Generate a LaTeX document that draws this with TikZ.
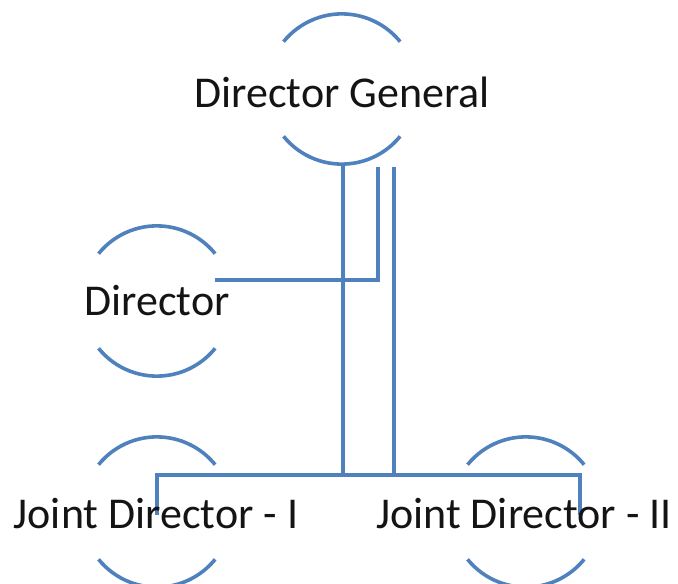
\documentclass[tikz,border=0pt]{standalone}
\usepackage{fontspec}
\setmainfont{Carlito}
\definecolor{linkblue}{RGB}{79,129,189}
\definecolor{txt}{RGB}{20,20,20}
\begin{document}
\begin{tikzpicture}[x=1pt,y=-1pt,
  role/.style={circle,minimum size=150pt,inner sep=0pt,draw=none},
  label/.style={text=txt,font=\fontsize{44}{50}\selectfont},
  arcline/.style={draw=linkblue,line width=3.6pt},
  link/.style={draw=linkblue,line width=3.6pt,line join=miter}]
\useasboundingbox (0,0) rectangle (678,584);
% connectors (drawn first, text over them)
\coordinate (dgL) at (343,163);
\coordinate (dgM) at (378,167);
\coordinate (dgR) at (394,167);
\coordinate (dirE) at (215,280);
\coordinate (jdiT) at (157,515);
\coordinate (jdiiT) at (580,515);
\coordinate (bus) at (0,475);
\draw[link] (dgM) |- (dirE);
\draw[link] (dgR) -- (dgR |- bus) -| (jdiT);
\draw[link] (dgL) -- (dgL |- bus) -| (jdiiT);
% nodes
\node[role] (dg) at (342,89) {};
\node[role] (dir) at (157,301) {};
\node[role] (jdi) at (157,512) {};
\node[role] (jdii) at (526,512) {};
\foreach \n in {dg,dir,jdi,jdii}{
  \draw[arcline] (\n.141) arc[start angle=141,end angle=39,radius=75pt];
  \draw[arcline] (\n.219) arc[start angle=219,end angle=321,radius=75pt];
}
\node[label] (dgt) at (342,92) {Director General};
\node[label] (dirt) at (157,301) {Director};
\node[label] (jdit) at (156,514) {Joint Director - I};
\node[label] (jdiit) at (524,514) {Joint Director - II};
\end{tikzpicture}
\end{document}
